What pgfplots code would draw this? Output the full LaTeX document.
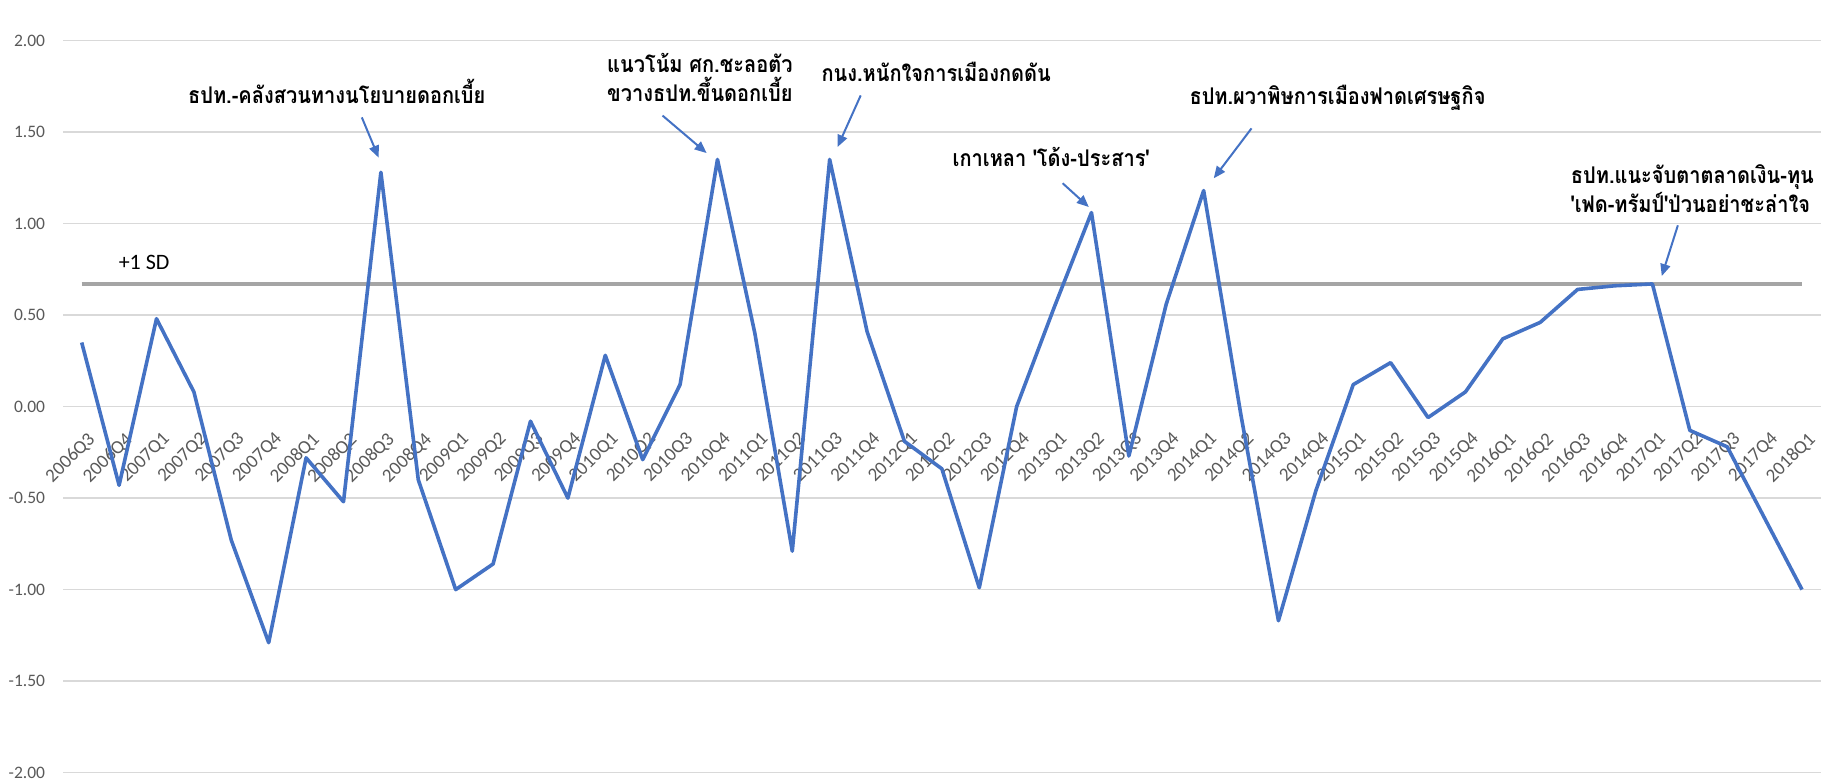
\documentclass[border=0pt]{standalone}
\usepackage{fontspec}
\setmainfont{Carlito}
\newfontfamily\thaifont[Script=Thai, Ligatures=TeXOff, FakeStretch=0.87]{Loma}
\usepackage{pgfplots}
\usepackage{pgfplotstable}
\pgfplotsset{compat=1.18}
\usetikzlibrary{arrows.meta}

\definecolor{lineblue}{HTML}{4472C4}
\definecolor{sdgray}{HTML}{A5A5A5}
\definecolor{gridgray}{HTML}{D9D9D9}
\definecolor{labelgray}{HTML}{595959}

% quarterly index, 2006Q3 (0) ... 2018Q1 (46)
\pgfplotstableread{
idx value
0 0.35
1 -0.43
2 0.48
3 0.08
4 -0.73
5 -1.29
6 -0.28
7 -0.52
8 1.28
9 -0.40
10 -1.00
11 -0.86
12 -0.08
13 -0.50
14 0.28
15 -0.29
16 0.12
17 1.35
18 0.40
19 -0.79
20 1.35
21 0.41
22 -0.19
23 -0.34
24 -0.99
25 0.00
26 0.54
27 1.06
28 -0.27
29 0.56
30 1.18
31 -0.05
32 -1.17
33 -0.46
34 0.12
35 0.24
36 -0.06
37 0.08
38 0.37
39 0.46
40 0.64
41 0.66
42 0.67
43 -0.13
44 -0.22
45 -0.61
46 -1.00
}\indexdata

% +1 standard deviation reference line
\pgfplotstableread{
idx value
0 0.67
46 0.67
}\sdline

\tikzset{
  note/.style={font=\thaifont\bfseries\fontsize{11.5bp}{14bp}\selectfont, inner sep=0pt},
  pointer/.style={draw=lineblue, line width=1bp, -{Triangle[length=6bp,width=5bp]}},
}

\begin{document}
\begin{tikzpicture}
\begin{axis}[
  scale only axis,
  width=878.7bp, height=366bp,
  xmin=-0.5, xmax=46.5, ymin=-2, ymax=2,
  clip=false,
  axis line style={draw=none},
  major tick length=0pt,
  ytick={-2,-1.5,-1,-0.5,0,0.5,1,1.5,2},
  ymajorgrids,
  grid style={draw=gridgray, line width=0.75bp},
  yticklabel style={font=\fontsize{8.75bp}{10bp}\selectfont, color=labelgray,
    inner sep=0pt, anchor=east, xshift=-8.75bp,
    /pgf/number format/.cd, fixed, fixed zerofill, precision=2, assume math mode=true},
  xtick={0,...,46},
  xticklabels={2006Q3,2006Q4,
    2007Q1,2007Q2,2007Q3,2007Q4,
    2008Q1,2008Q2,2008Q3,2008Q4,
    2009Q1,2009Q2,2009Q3,2009Q4,
    2010Q1,2010Q2,2010Q3,2010Q4,
    2011Q1,2011Q2,2011Q3,2011Q4,
    2012Q1,2012Q2,2012Q3,2012Q4,
    2013Q1,2013Q2,2013Q3,2013Q4,
    2014Q1,2014Q2,2014Q3,2014Q4,
    2015Q1,2015Q2,2015Q3,2015Q4,
    2016Q1,2016Q2,2016Q3,2016Q4,
    2017Q1,2017Q2,2017Q3,2017Q4,
    2018Q1},
  xticklabel style={font=\fontsize{9.5bp}{11bp}\selectfont, color=labelgray,
    inner sep=0pt, yshift=171bp, xshift=2.5bp, rotate=45, anchor=north east},
]
\addplot[draw=sdgray, line width=2bp, no markers] table[x=idx, y=value] {\sdline};
\addplot[draw=lineblue, line width=1.8bp, no markers, line join=round] table[x=idx, y=value] {\indexdata};

\node[font=\fontsize{11bp}{13bp}\selectfont, anchor=west, inner sep=0pt] at (axis cs:0.98,0.79) {+1 SD};

\node[note] at (axis cs:6.82,1.72) {ธปท.-คลังสวนทางนโยบายดอกเบี้ย};
\draw[pointer] (axis cs:7.49,1.58) -- (axis cs:7.94,1.36);

\node[note, anchor=west] at (axis cs:14.04,1.88) {แนวโน้ม ศก.ชะลอตัว};
\node[note, anchor=west] at (axis cs:14.04,1.735) {ขวางธปท.ขึ้นดอกเบี้ย};
\draw[pointer] (axis cs:15.53,1.59) -- (axis cs:16.71,1.385);

\node[note] at (axis cs:22.85,1.83) {กนง.หนักใจการเมืองกดดัน};
\draw[pointer] (axis cs:20.83,1.70) -- (axis cs:20.21,1.418);

\node[note] at (axis cs:25.92,1.364) {เกาเหลา 'โด้ง-ประสาร'};
\draw[pointer] (axis cs:26.23,1.22) -- (axis cs:26.93,1.09);

\node[note] at (axis cs:33.58,1.686) {ธปท.ผวาพิษการเมืองฟาดเศรษฐกิจ};
\draw[pointer] (axis cs:31.28,1.52) -- (axis cs:30.27,1.247);

\node[note, anchor=west] at (axis cs:39.81,1.255) {ธปท.แนะจับตาตลาดเงิน-ทุน};
\node[note, anchor=west] at (axis cs:39.81,1.115) {'เฟด-ทรัมป์'ป่วนอย่าชะล่าใจ};
\draw[pointer] (axis cs:42.68,0.99) -- (axis cs:42.25,0.713);
\end{axis}
\pgfresetboundingbox
\path ([xshift=-31.5bp,yshift=-4bp]current axis.south west)
  rectangle ([xshift=8.65bp,yshift=20.25bp]current axis.north east);
\end{tikzpicture}
\end{document}
